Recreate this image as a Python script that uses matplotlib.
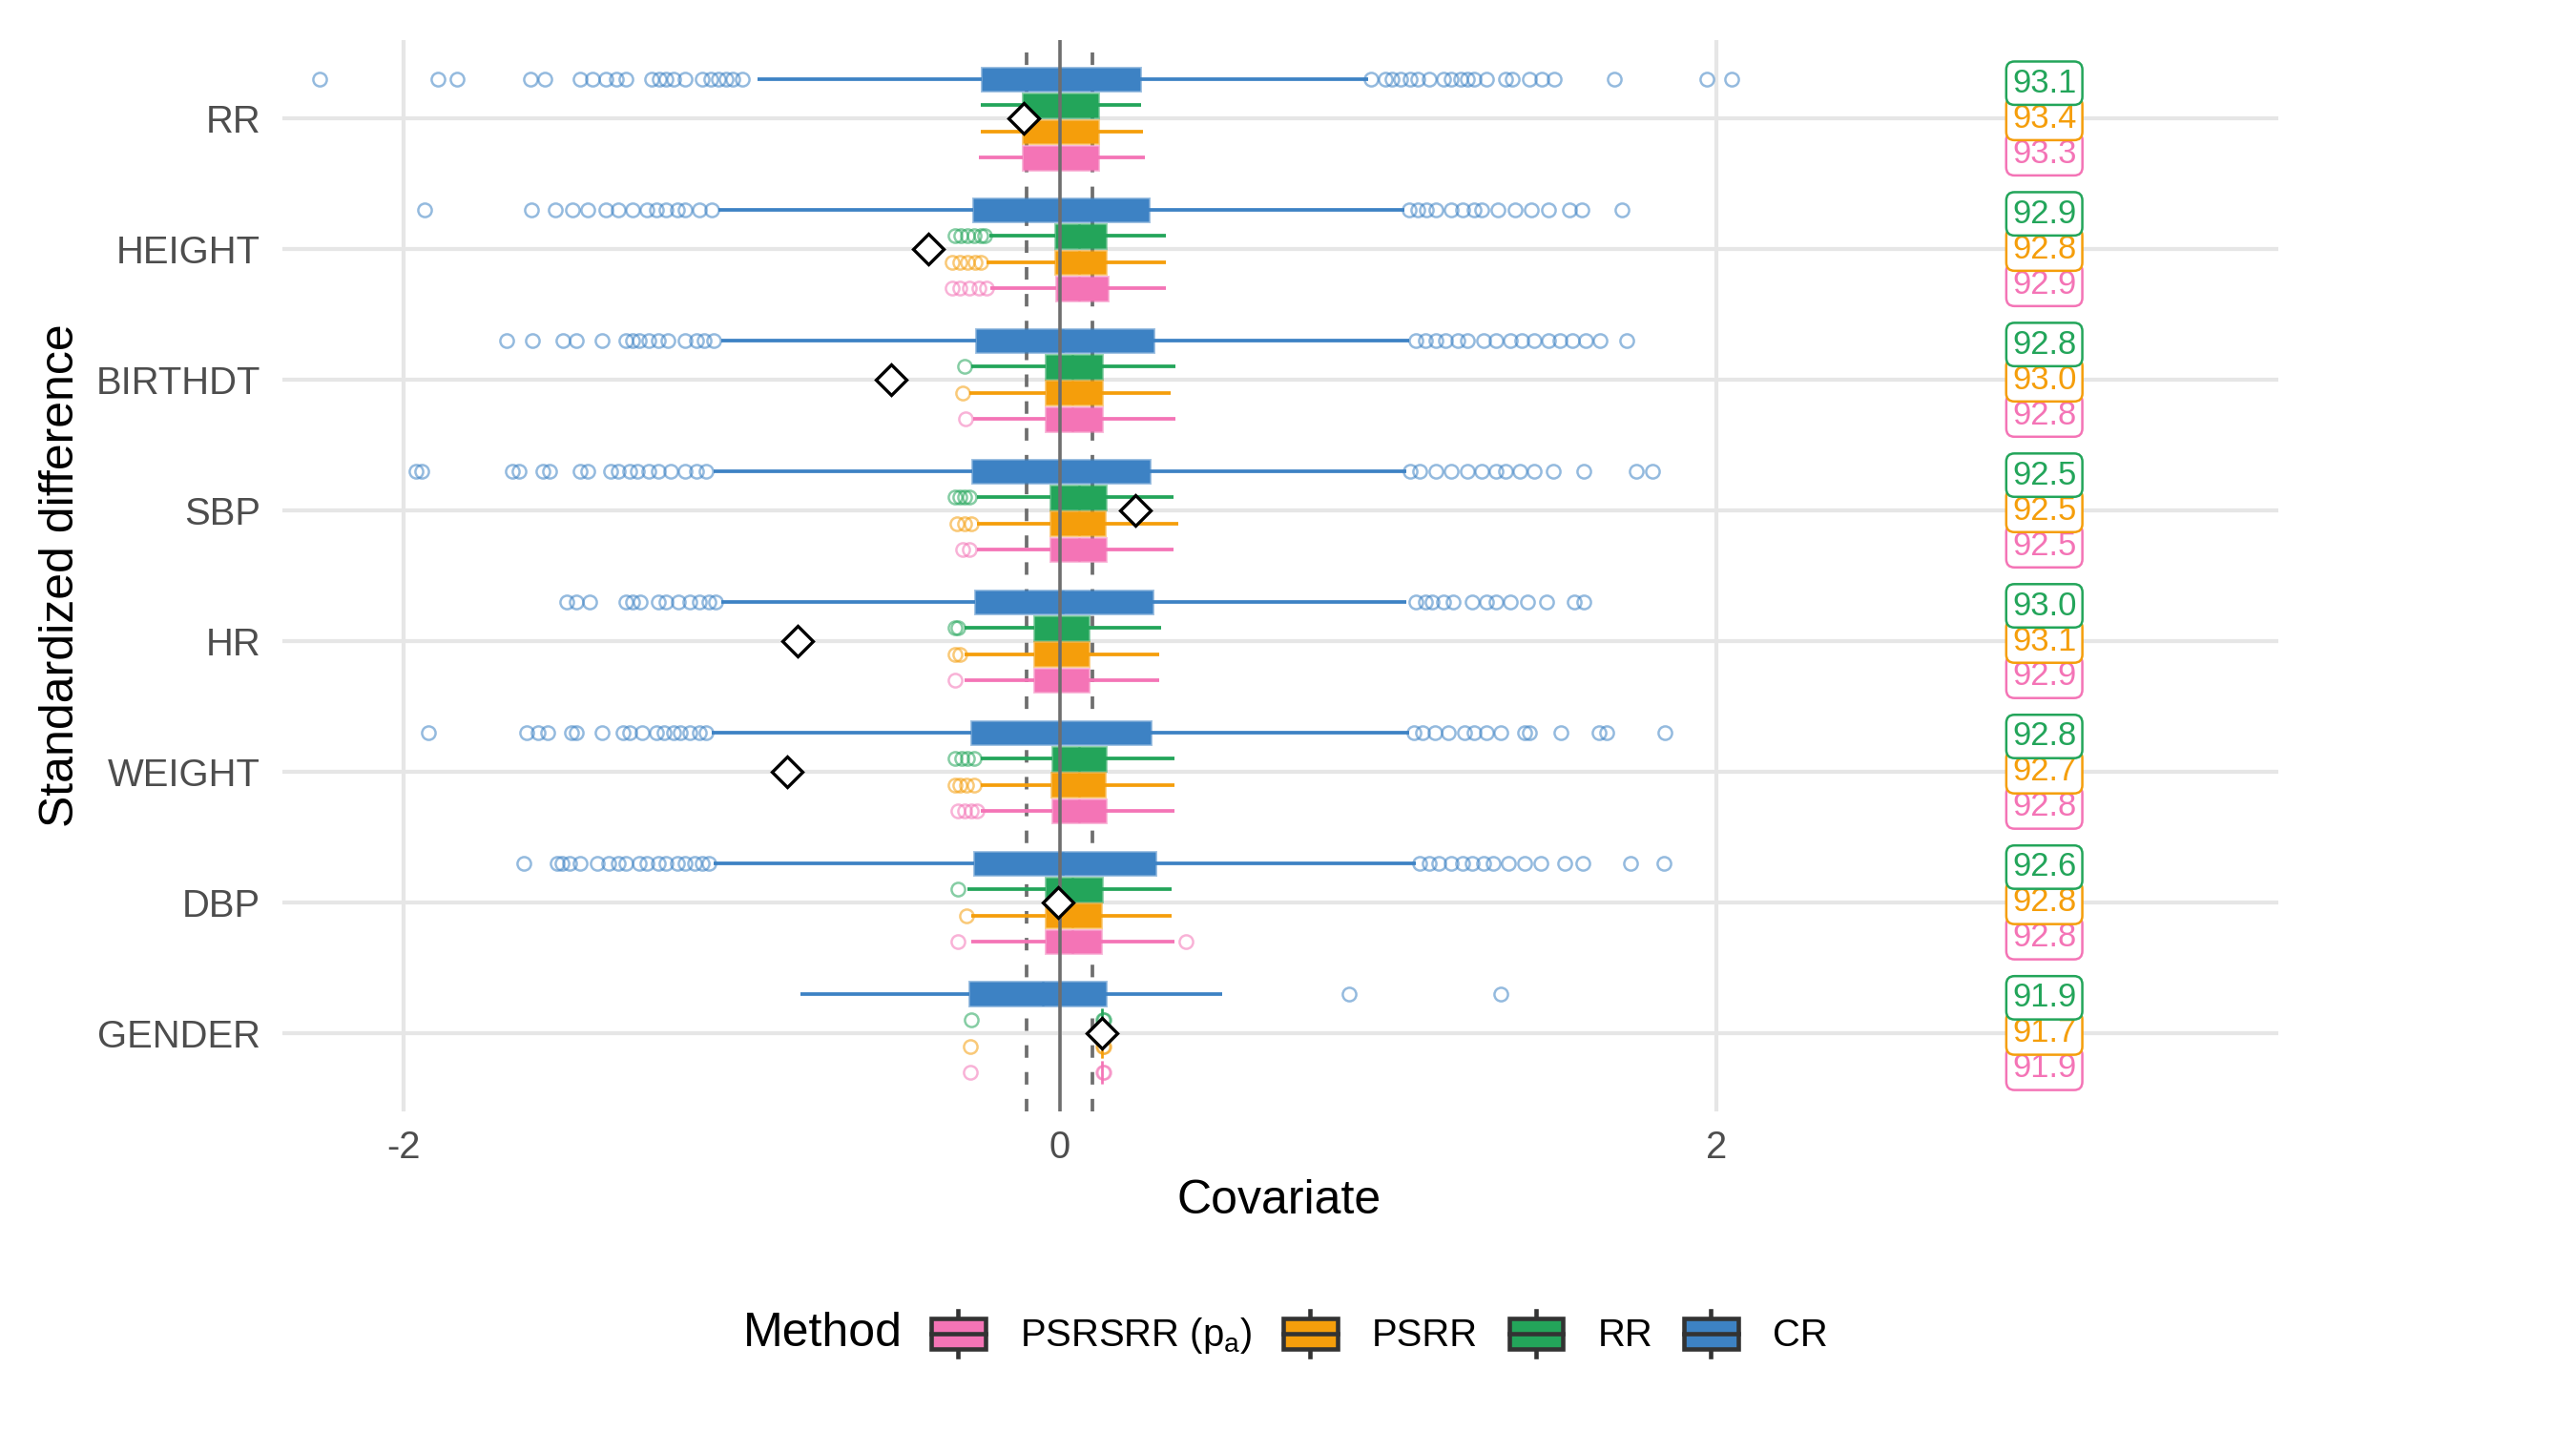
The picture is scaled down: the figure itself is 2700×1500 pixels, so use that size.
import matplotlib
matplotlib.use("Agg")
import matplotlib.pyplot as plt
from matplotlib.patches import Rectangle, Patch
from matplotlib.lines import Line2D
from matplotlib.legend_handler import HandlerBase

plt.rcParams['font.family'] = ['Liberation Sans', 'DejaVu Sans']

# covariates, top to bottom
covariates = ["RR", "HEIGHT", "BIRTHDT", "SBP", "HR", "WEIGHT", "DBP", "GENDER"]

# CR method (blue)
cr_q1 = [-0.237, -0.263, -0.254, -0.266, -0.257, -0.269, -0.260, -0.275]
cr_med = [0.0, 0.0, 0.01, 0.0, 0.01, 0.0, 0.01, -0.05]
cr_q3 = [0.246, 0.272, 0.286, 0.275, 0.283, 0.277, 0.292, 0.142]
cr_lo = [-0.919, -1.040, -1.032, -1.055, -1.032, -1.061, -1.055, -0.789]
cr_hi = [0.939, 1.049, 1.064, 1.055, 1.055, 1.064, 1.084, 0.494]
cr_out = [
    [-2.254, -1.893, -1.835, -1.613, -1.569, -1.460, -1.422, -1.384, -1.350, -1.321,
     -1.243, -1.220, -1.199, -1.176, -1.142, -1.090, -1.064, -1.040, -1.017, -0.997, -0.968,
     0.948, 0.991, 1.012, 1.040, 1.069, 1.090, 1.127, 1.171, 1.194, 1.223, 1.243, 1.263,
     1.301, 1.358, 1.379, 1.431, 1.468, 1.506, 1.691, 1.971, 2.046],
    [-1.936, -1.610, -1.538, -1.483, -1.439, -1.382, -1.344, -1.301, -1.257, -1.228,
     -1.199, -1.165, -1.142, -1.098, -1.061,
     1.064, 1.090, 1.118, 1.147, 1.194, 1.228, 1.263, 1.286, 1.335, 1.387, 1.436, 1.488,
     1.552, 1.590, 1.714],
    [-1.685, -1.607, -1.512, -1.474, -1.393, -1.321, -1.301, -1.280, -1.251, -1.223,
     -1.194, -1.142, -1.107, -1.084, -1.055,
     1.084, 1.113, 1.147, 1.176, 1.214, 1.243, 1.292, 1.329, 1.373, 1.408, 1.445, 1.488,
     1.523, 1.561, 1.604, 1.647, 1.728],
    [-1.960, -1.945, -1.668, -1.647, -1.575, -1.555, -1.460, -1.439, -1.367, -1.344,
     -1.309, -1.286, -1.251, -1.223, -1.185, -1.142, -1.107, -1.078,
     1.069, 1.098, 1.147, 1.194, 1.243, 1.286, 1.329, 1.358, 1.402, 1.445, 1.503, 1.598,
     1.757, 1.806],
    [-1.503, -1.474, -1.431, -1.321, -1.301, -1.277, -1.223, -1.199, -1.162, -1.127,
     -1.098, -1.069, -1.049,
     1.084, 1.113, 1.136, 1.171, 1.199, 1.257, 1.301, 1.329, 1.373, 1.425, 1.483, 1.569,
     1.598],
    [-1.922, -1.624, -1.590, -1.561, -1.488, -1.474, -1.393, -1.329, -1.309, -1.272,
     -1.228, -1.205, -1.176, -1.156, -1.127, -1.098, -1.078,
     1.078, 1.107, 1.142, 1.185, 1.234, 1.263, 1.301, 1.344, 1.416, 1.431, 1.526, 1.642,
     1.668, 1.844],
    [-1.633, -1.532, -1.517, -1.494, -1.460, -1.408, -1.373, -1.344, -1.321, -1.280,
     -1.257, -1.223, -1.199, -1.165, -1.142, -1.113, -1.090, -1.069,
     1.098, 1.127, 1.156, 1.194, 1.228, 1.257, 1.292, 1.321, 1.367, 1.416, 1.465, 1.540,
     1.595, 1.740, 1.841],
    [0.881, 1.344],
]

# RR method (green)
rr_q1 = [-0.113, -0.014, -0.043, -0.029, -0.078, -0.023, -0.043, 0.130]
rr_med = [0.0, 0.06, 0.04, 0.06, 0.0, 0.06, 0.04, 0.130]
rr_q3 = [0.118, 0.142, 0.130, 0.142, 0.087, 0.142, 0.130, 0.130]
rr_lo = [-0.240, -0.215, -0.269, -0.251, -0.289, -0.240, -0.280, 0.130]
rr_hi = [0.249, 0.324, 0.353, 0.347, 0.309, 0.350, 0.341, 0.130]
rr_out = [[], [-0.320, -0.300, -0.280, -0.260, -0.240, -0.230], [-0.289],
          [-0.318, -0.303, -0.289, -0.275], [-0.318, -0.309],
          [-0.318, -0.298, -0.280, -0.260], [-0.309], [-0.269, 0.131, 0.134]]

# PSRR method (orange)
psrr_q1 = [-0.113, -0.014, -0.043, -0.029, -0.078, -0.026, -0.043, 0.130]
psrr_med = [0.0, 0.06, 0.04, 0.06, 0.0, 0.06, 0.04, 0.130]
psrr_q3 = [0.118, 0.142, 0.130, 0.139, 0.087, 0.139, 0.127, 0.130]
psrr_lo = [-0.240, -0.223, -0.275, -0.251, -0.289, -0.240, -0.269, 0.130]
psrr_hi = [0.254, 0.324, 0.338, 0.361, 0.303, 0.350, 0.341, 0.130]
psrr_out = [[], [-0.327, -0.303, -0.280, -0.257, -0.240], [-0.295],
            [-0.312, -0.289, -0.269], [-0.318, -0.303],
            [-0.318, -0.303, -0.283, -0.260], [-0.283], [-0.272, 0.131, 0.134]]

# PSRSRR (p_a) method (pink)
pss_q1 = [-0.113, -0.012, -0.043, -0.029, -0.078, -0.023, -0.043, 0.130]
pss_med = [0.0, 0.06, 0.04, 0.06, 0.0, 0.06, 0.04, 0.130]
pss_q3 = [0.118, 0.145, 0.130, 0.142, 0.087, 0.142, 0.127, 0.130]
pss_lo = [-0.246, -0.211, -0.263, -0.251, -0.289, -0.240, -0.269, 0.130]
pss_hi = [0.260, 0.324, 0.353, 0.347, 0.303, 0.350, 0.350, 0.130]
pss_out = [[], [-0.327, -0.303, -0.275, -0.246, -0.223], [-0.286],
           [-0.295, -0.275], [-0.318],
           [-0.309, -0.289, -0.269, -0.251], [-0.309, 0.384], [-0.272, 0.131, 0.134]]

# mean markers (diamonds)
means = [-0.110, -0.399, -0.514, 0.231, -0.798, -0.829, -0.006, 0.130]

# coverage labels
cov_rr = [93.1, 92.9, 92.8, 92.5, 93.0, 92.8, 92.6, 91.9]
cov_psrr = [93.4, 92.8, 93.0, 92.5, 93.1, 92.7, 92.8, 91.7]
cov_pss = [93.3, 92.9, 92.8, 92.5, 92.9, 92.8, 92.8, 91.9]

BLUE = "#3D82C4"
GREEN = "#23A55A"
ORANGE = "#F59E0B"
PINK = "#F474B6"

methods = [
    ("CR", BLUE, 0.3, cr_q1, cr_med, cr_q3, cr_lo, cr_hi, cr_out),
    ("RR", GREEN, 0.1, rr_q1, rr_med, rr_q3, rr_lo, rr_hi, rr_out),
    ("PSRR", ORANGE, -0.1, psrr_q1, psrr_med, psrr_q3, psrr_lo, psrr_hi, psrr_out),
    ("PSRSRR", PINK, -0.3, pss_q1, pss_med, pss_q3, pss_lo, pss_hi, pss_out),
]

n = len(covariates)
ypos = [n - 1 - i for i in range(n)]

fig = plt.figure(figsize=(9, 5), dpi=300)
ax = fig.add_axes([296 / 2700, 0.2233, (2388 - 296) / 2700, 0.972 - 0.2233])

for name, col, off, q1, med, q3, lo, hi, out in methods:
    stats = []
    for i in range(n):
        stats.append(dict(med=med[i], q1=q1[i], q3=q3[i], whislo=lo[i], whishi=hi[i],
                          fliers=out[i]))
    ax.bxp(stats, positions=[y + off for y in ypos], widths=0.18,
           orientation='horizontal', patch_artist=True, showcaps=False,
           boxprops=dict(facecolor=col, edgecolor=matplotlib.colors.to_rgba(col, 0.5),
                         linewidth=0.7),
           medianprops=dict(color=col, linewidth=0.6),
           whiskerprops=dict(color=col, linewidth=0.9, solid_capstyle='butt'),
           flierprops=dict(marker='o', markerfacecolor='none', markeredgecolor=col,
                           markersize=3.4, markeredgewidth=0.6, alpha=0.55),
           zorder=2, manage_ticks=False)

# reference lines
ax.axvline(0, color="#6E6E6E", lw=0.85, zorder=3)
for v in (-0.1, 0.1):
    ax.axvline(v, color="#6E6E6E", lw=0.9, linestyle=(0, (3.5, 4)), zorder=1.5)

# mean diamonds
ax.plot(means, ypos, linestyle='none', marker='D', markersize=5.4,
        markerfacecolor='white', markeredgecolor='black', markeredgewidth=0.8, zorder=4)

# coverage labels
for vals, col, off in [(cov_pss, PINK, -0.27), (cov_psrr, ORANGE, 0.0), (cov_rr, GREEN, 0.27)]:
    for y, v in zip(ypos, vals):
        ax.text(3.0, y + off, f"{v:.1f}", color=col, ha='center', va='center',
                fontsize=8.3, zorder=5,
                bbox=dict(boxstyle='round,pad=0.18,rounding_size=0.25', fc='white',
                          ec=col, lw=0.6))

ax.set_xlim(-2.368, 3.713)
ax.set_ylim(-0.6, n - 0.4)
ax.set_xticks([-2, 0, 2])
ax.set_xticklabels(["-2", "0", "2"])
ax.set_yticks(ypos)
ax.set_yticklabels(covariates)
ax.tick_params(length=0, labelsize=9.6, labelcolor="#4D4D4D")
ax.tick_params(axis='x', pad=4.5)
ax.tick_params(axis='y', pad=5.5)
ax.grid(True, color="#E6E6E6", lw=1.0, zorder=0)
ax.set_axisbelow(True)
for s in ax.spines.values():
    s.set_visible(False)

fig.text(64 / 2700, 1 - 603 / 1500, "Standardized difference", rotation=90,
         ha='center', va='center', fontsize=12)
fig.text(1341 / 2700, 1 - 1259 / 1500, "Covariate", ha='center', va='center', fontsize=12)


# legend with boxplot keys
class BoxKey(HandlerBase):
    def create_artists(self, legend, orig_handle, xdescent, ydescent, width, height,
                       fontsize, trans):
        fc = orig_handle.get_facecolor()
        x0, y0 = -xdescent, -ydescent
        cx = x0 + width / 2
        bh = height * 0.68
        by = y0 + (height - bh) / 2
        rect = Rectangle((x0, by), width, bh, facecolor=fc, edgecolor="#333333",
                         lw=1.1, transform=trans)
        mline = Line2D([x0, x0 + width], [y0 + height / 2] * 2, color="#333333",
                       lw=1.1, transform=trans)
        w1 = Line2D([cx, cx], [by + bh, y0 + height], color="#333333", lw=1.1,
                    transform=trans)
        w2 = Line2D([cx, cx], [y0, by], color="#333333", lw=1.1, transform=trans)
        return [w1, w2, rect, mline]


handles = [Patch(facecolor=PINK), Patch(facecolor=ORANGE), Patch(facecolor=GREEN),
           Patch(facecolor=BLUE)]
labels = ["PSRSRR (p$_{\\mathregular{a}}$)", "PSRR", "RR", "CR"]
fig.legend(handles, labels, loc='center left', bbox_to_anchor=(976 / 2700, 1 - 1398 / 1500),
           ncol=4, frameon=False, fontsize=9.6, handler_map={Patch: BoxKey()},
           handlelength=1.42, handleheight=1.45, handletextpad=0.9, columnspacing=0.82,
           borderpad=0, borderaxespad=0)
fig.text(779 / 2700, 1 - 1398 / 1500, "Method", ha='left', va='center', fontsize=12)

fig.savefig("out.png", dpi=300, facecolor='white')
